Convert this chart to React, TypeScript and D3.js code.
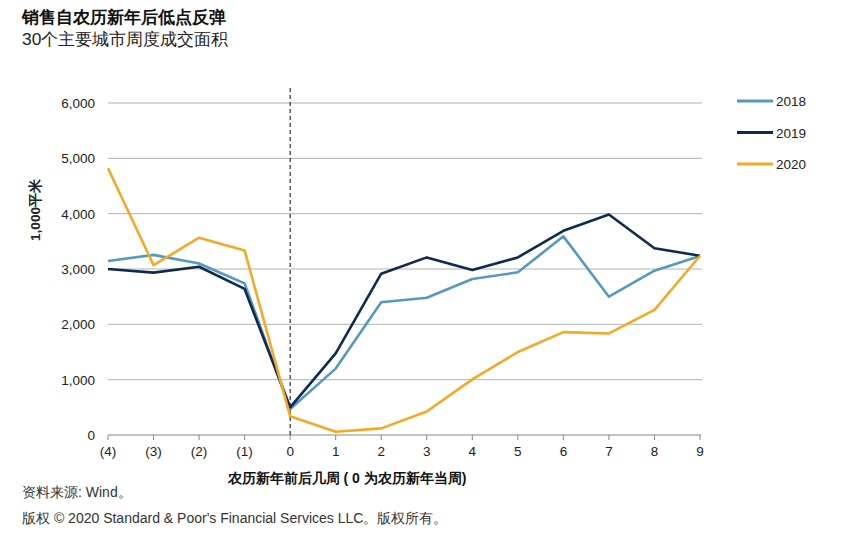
import React from "react";
import * as d3 from "d3";

const categories = ["(4)", "(3)", "(2)", "(1)", "0", "1", "2", "3", "4", "5", "6", "7", "8", "9"];
const series2018 = [3145, 3255, 3100, 2740, 470, 1200, 2400, 2480, 2820, 2940, 3590, 2500, 2970, 3235];
const series2019 = [3000, 2935, 3040, 2640, 500, 1475, 2915, 3210, 2980, 3210, 3690, 3985, 3375, 3240];
const series2020 = [4820, 3070, 3565, 3335, 340, 60, 120, 425, 1005, 1500, 1860, 1835, 2260, 3240];
const yTicks = [0, 1000, 2000, 3000, 4000, 5000, 6000];
const seriesNames = ["2018", "2019", "2020"];
const colors = ["#5499c2", "#0e2a53", "#f7a823"];

const font = "Liberation Sans, Arial, sans-serif";

export default function App() {
  const x = d3.scalePoint<string>().domain(categories).range([108, 700]);
  const y = d3.scaleLinear().domain([0, 6000]).range([435, 103]);
  const line = d3
    .line<number>()
    .x((_, i) => x(categories[i]) as number)
    .y((d) => y(d));
  const allSeries = [series2018, series2019, series2020];
  const fmt = d3.format(",");

  return (
    <svg
      width={841}
      height={548}
      style={{ position: "absolute", left: 0, top: 0, background: "#fff" }}
      fontFamily={font}
    >
      <text x={22} y={23} fontSize={17.4} fontWeight="bold" fill="#111">
        销售自农历新年后低点反弹
      </text>
      <text x={22} y={45} fontSize={17.4} fill="#222">
        30个主要城市周度成交面积
      </text>

      {yTicks.map((t) => (
        <g key={t}>
          {t > 0 && (
            <line x1={108} x2={702} y1={y(t)} y2={y(t)} stroke="#b3b3b3" strokeWidth={1} />
          )}
          <text x={95} y={y(t) + 5} fontSize={13.5} textAnchor="end" fill="#222">
            {fmt(t)}
          </text>
        </g>
      ))}

      <line x1={108} x2={701} y1={435} y2={435} stroke="#888" strokeWidth={1} />
      {categories.map((c) => (
        <g key={c}>
          <line x1={x(c)} x2={x(c)} y1={435} y2={440} stroke="#888" strokeWidth={1} />
          <text x={x(c)} y={456} fontSize={13.5} textAnchor="middle" fill="#222">
            {c}
          </text>
        </g>
      ))}

      <line
        x1={x("0")}
        x2={x("0")}
        y1={88}
        y2={435}
        stroke="#000"
        strokeWidth={1}
        strokeDasharray="4,3"
      />

      {allSeries.map((s, i) => (
        <path
          key={i}
          d={line(s) || ""}
          fill="none"
          stroke={colors[i]}
          strokeWidth={2.6}
          strokeLinejoin="round"
        />
      ))}

      {seriesNames.map((n, i) => (
        <g key={n}>
          <line
            x1={737}
            x2={773}
            y1={101 + i * 31.5}
            y2={101 + i * 31.5}
            stroke={colors[i]}
            strokeWidth={3}
          />
          <text x={776} y={106 + i * 31.5} fontSize={13.5} fill="#222">
            {n}
          </text>
        </g>
      ))}

      <text
        transform="translate(40,210) rotate(-90)"
        fontSize={13.5}
        fontWeight="bold"
        textAnchor="middle"
        fill="#222"
      >
        1,000平米
      </text>

      <text x={347} y={483} fontSize={14} fontWeight="bold" textAnchor="middle" fill="#111">
        农历新年前后几周 ( 0 为农历新年当周)
      </text>

      <text x={22} y={497} fontSize={14} fill="#333">
        资料来源: Wind。
      </text>
      <text x={22} y={523} fontSize={14} fill="#333">
        版权 © 2020 Standard &amp; Poor's Financial Services LLC。版权所有。
      </text>
    </svg>
  );
}
